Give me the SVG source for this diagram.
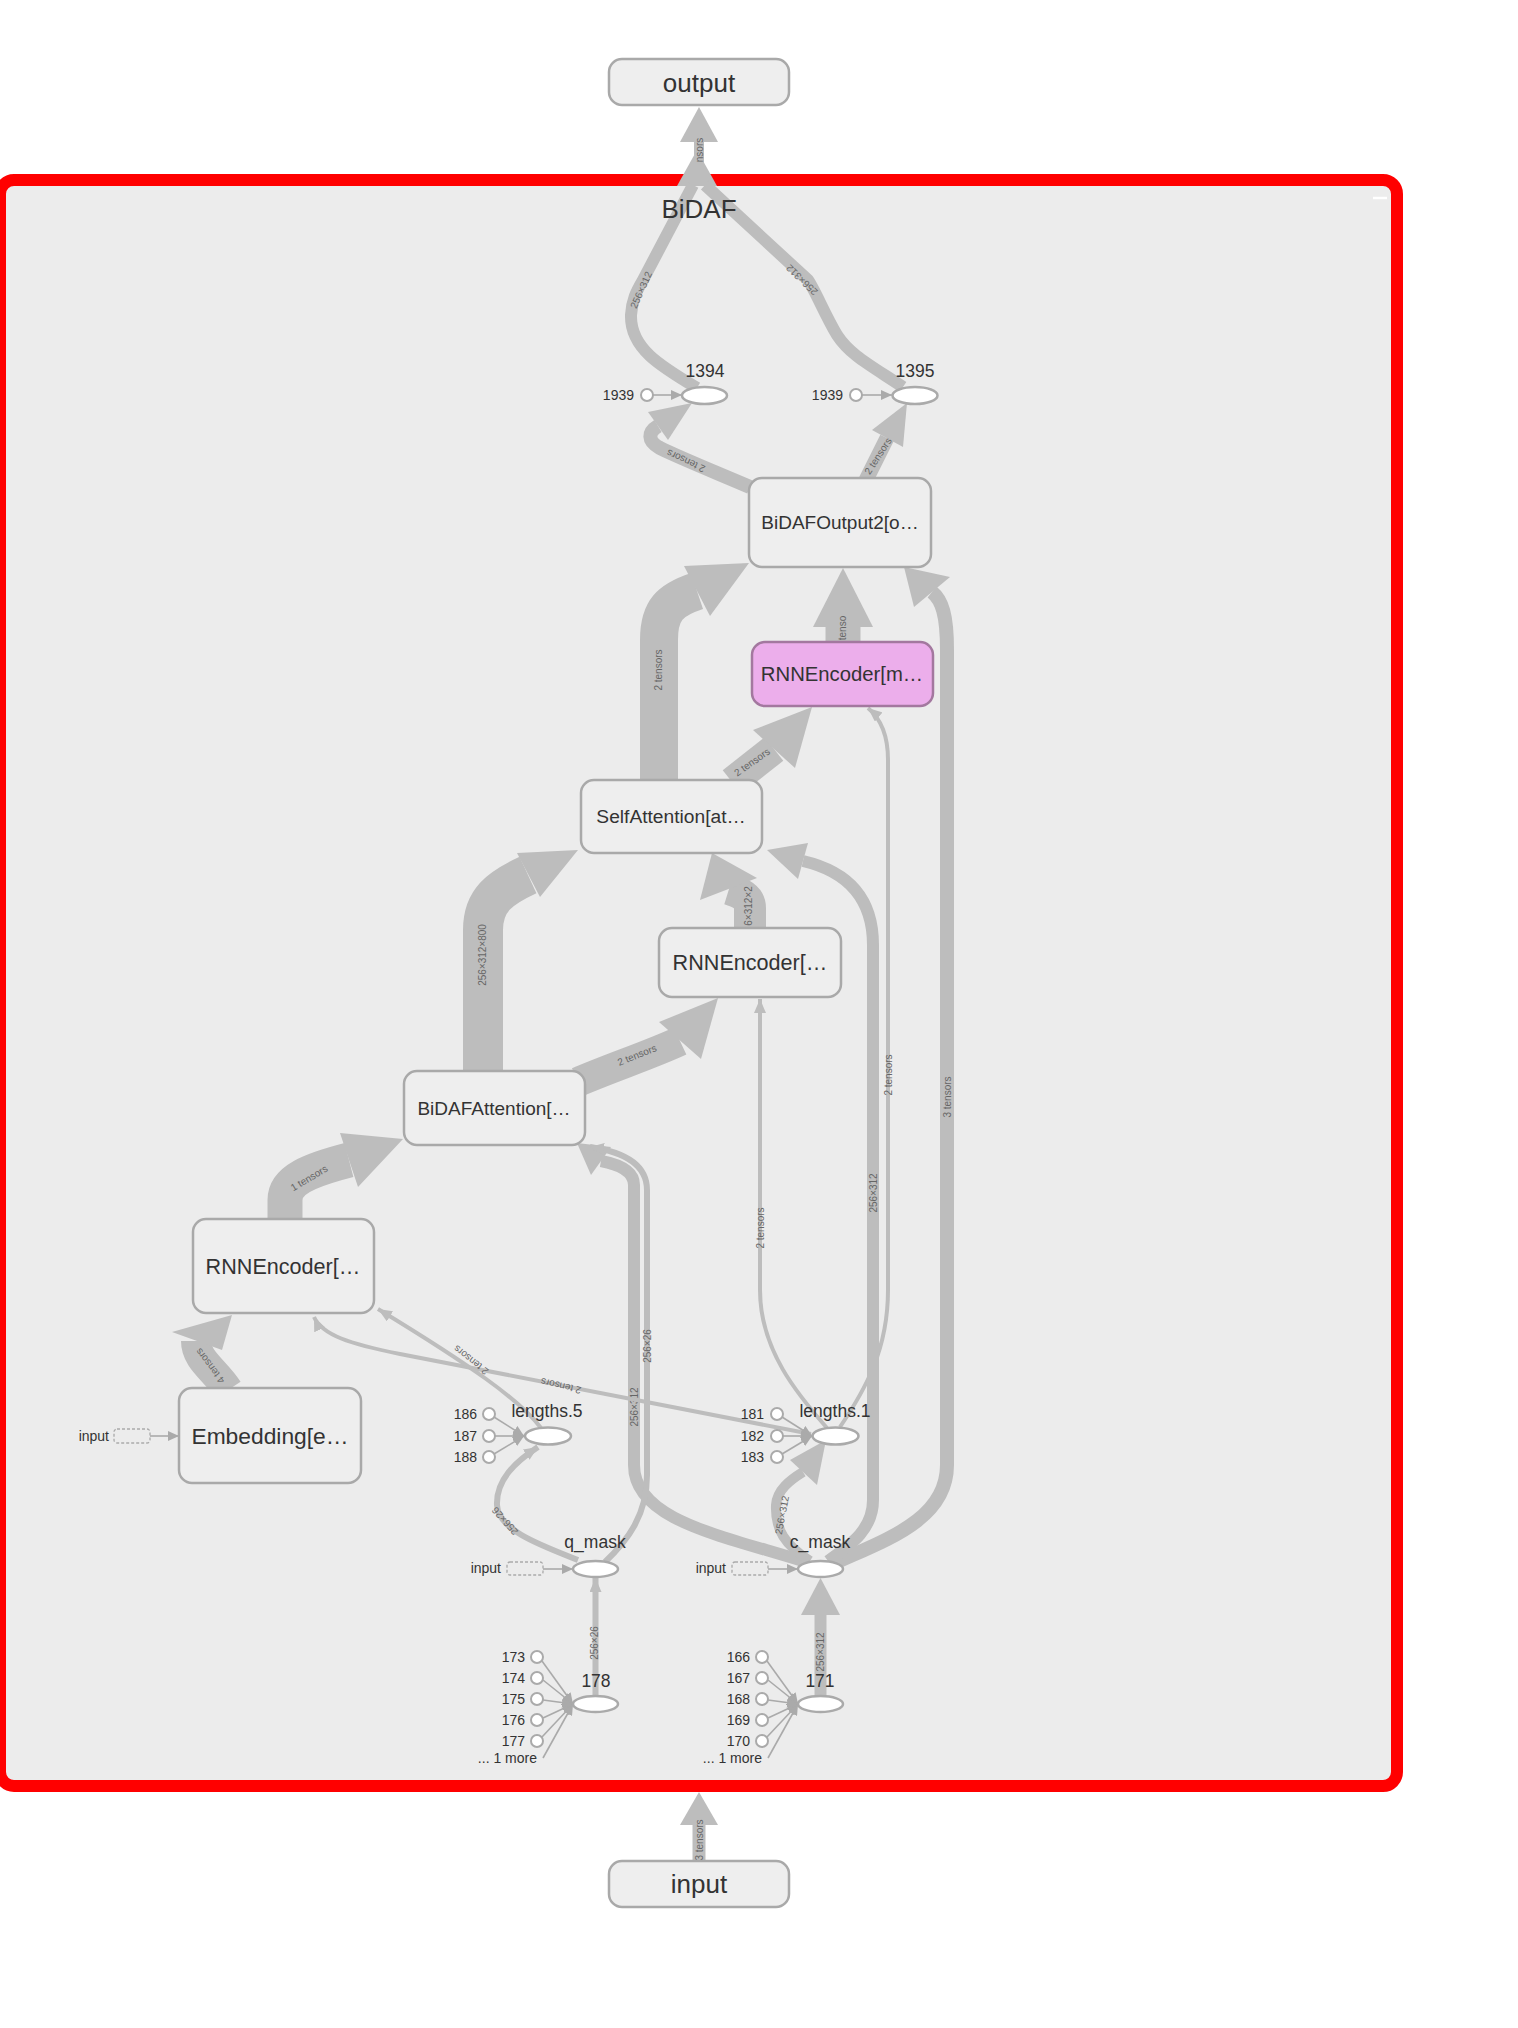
<svg xmlns="http://www.w3.org/2000/svg" width="1518" height="2028" viewBox="0 0 1518 2028">
<defs>
<marker id="m" markerUnits="userSpaceOnUse" markerWidth="14" markerHeight="12" viewBox="0 0 14 12" refX="14" refY="6" orient="auto"><path d="M0,0 L14,6 L0,12 z" fill="#bdbdbd"/></marker>
<marker id="ma" markerUnits="userSpaceOnUse" markerWidth="11" markerHeight="10" viewBox="0 0 11 10" refX="11" refY="5" orient="auto"><path d="M0,0 L11,5 L0,10 z" fill="#aaa"/></marker>
<style>
text { font-family: "Liberation Sans", Arial, sans-serif; }
.e { fill: none; stroke: #bdbdbd; stroke-linecap: butt; stroke-linejoin: round; }
.ah { fill: #bdbdbd; }
.el { font-size: 10px; fill: #666; text-anchor: middle; }
.nd rect { fill: #eeeeee; stroke: #a9a9a9; stroke-width: 2.5; }
.nd text { fill: #333; text-anchor: middle; }
.op ellipse { fill: #fff; stroke: #aaa; stroke-width: 2.5; }
.op text.t { fill: #333; text-anchor: middle; font-size: 17.5px; }
.an circle { fill: #fff; stroke: #aaa; stroke-width: 2; }
.an line { stroke: #aaa; stroke-width: 1.6; marker-end: url(#ma); }
.an text { fill: #333; text-anchor: end; font-size: 14px; }
.stub rect { fill: none; stroke: #aaa; stroke-width: 1.3; stroke-dasharray: 3 2; }
</style>
</defs>
<rect x="0" y="0" width="1518" height="2028" fill="#fff"/>

<g id="cluster-BiDAF">
<rect x="0" y="180" width="1397" height="1606" rx="14" fill="#ececec" stroke="#ff0000" stroke-width="12"/>
<line x1="1373" y1="198" x2="1387" y2="198" stroke="#fff" stroke-width="2.5"/>
</g>

<g id="connectors">
<!-- output edge -->
<path class="e" d="M699 186 L699 140" stroke-width="10"/>
<polygon class="ah" points="699,107 680,142 718,142"/>
<polygon class="ah" points="697,150 677,186 717,186"/>
<text class="el" transform="translate(699,150) rotate(-90)" y="3.5">nsors</text>
<!-- input edge -->
<path class="e" d="M699 1861 L699 1823" stroke-width="13"/>
<polygon class="ah" points="699,1792 680,1825 718,1825"/>
<text class="el" transform="translate(699,1840) rotate(-90)" y="3.5">3 tensors</text>

<!-- 1394 -> output -->
<path class="e" d="M697 388 C660 366 630 348 631 315 C632 300 636 292 643 280 L693 185" stroke-width="12"/>
<text class="el" transform="translate(641,290) rotate(-66)" y="3.5">256×312</text>
<!-- 1395 -> output -->
<path class="e" d="M903 387 C870 365 850 355 837 335 C825 315 815 290 808 280 L705 185" stroke-width="12"/>
<text class="el" transform="translate(802,280) rotate(224)" y="3.5">256×312</text>

<!-- BiDAFOutput2 -> 1394 -->
<path class="e" d="M750 487 C715 472 680 458 660 448 C647 441 648 432 658 426" stroke-width="14"/>
<polygon class="ah" points="692,403 648,412 668,440"/>
<text class="el" transform="translate(686,461) rotate(205)" y="3.5">2 tensors</text>
<!-- BiDAFOutput2 -> 1395 -->
<path class="e" d="M866 480 L887 438" stroke-width="15"/>
<polygon class="ah" points="907,403 872,430 903,447"/>
<text class="el" transform="translate(878,456) rotate(-57)" y="3.5">2 tensors</text>

<!-- SelfAttention -> BiDAFOutput2 -->
<path class="e" d="M659 782 L659 640 C659 610 670 600 697 591" stroke-width="38"/>
<polygon class="ah" points="749,563 684,566 710,616"/>
<text class="el" transform="translate(658,670) rotate(-90)" y="3.5">2 tensors</text>

<!-- RNNEncoder[m -> BiDAFOutput2 -->
<path class="e" d="M843 644 L843 625" stroke-width="35"/>
<polygon class="ah" points="843,568 813,627 873,627"/>
<text class="el" transform="translate(842,628) rotate(-90)" y="3.5">tenso</text>

<!-- c_mask -> BiDAFOutput2 -->
<path class="e" d="M835 1563 C885 1540 947 1520 947 1465 L947 650 C947 615 942 600 932 592" stroke-width="14"/>
<polygon class="ah" points="904,567 914,607 950,577"/>
<text class="el" transform="translate(947,1097) rotate(-90)" y="3.5">3 tensors</text>

<!-- SelfAttention -> RNNEncoder[m -->
<path class="e" d="M732 782 L774 749" stroke-width="30"/>
<polygon class="ah" points="812,707 753,730 795,768"/>
<text class="el" transform="translate(752,762) rotate(-35)" y="3.5">2 tensors</text>

<!-- lengths.1 -> RNNEncoder[m -->
<path class="e" d="M840 1427 C865 1390 888 1350 888 1290 L888 760 C888 735 880 718 868 708" stroke-width="4" marker-end="url(#m)"/>
<text class="el" transform="translate(888,1075) rotate(-90)" y="3.5">2 tensors</text>

<!-- c_mask -> SelfAttention -->
<path class="e" d="M828 1561 C850 1545 873 1530 873 1500 L873 945 C873 900 850 872 803 861" stroke-width="12"/>
<polygon class="ah" points="767,850 808,843 798,879"/>
<text class="el" transform="translate(873,1193) rotate(-90)" y="3.5">256×312</text>

<!-- RNNEncoder[ middle -> SelfAttention -->
<path class="e" d="M750 930 L750 908 C750 898 742 893 729 889" stroke-width="32"/>
<polygon class="ah" points="712,853 700,900 757,878"/>
<text class="el" transform="translate(748,906) rotate(-90)" y="3.5">6×312×2</text>

<!-- BiDAFAttention -> SelfAttention -->
<path class="e" d="M483 1073 L483 930 C483 900 500 888 528 875" stroke-width="40"/>
<polygon class="ah" points="578,850 517,853 540,897"/>
<text class="el" transform="translate(482,955) rotate(-90)" y="3.5">256×312×800</text>

<!-- BiDAFAttention -> RNNEncoder middle -->
<path class="e" d="M578 1082 C610 1068 650 1055 680 1041" stroke-width="30"/>
<polygon class="ah" points="718,998 659,1022 701,1059"/>
<text class="el" transform="translate(637,1055) rotate(-22)" y="3.5">2 tensors</text>

<!-- lengths.1 -> RNNEncoder middle -->
<path class="e" d="M827 1428 C798 1395 760 1350 760 1290 L760 999" stroke-width="4" marker-end="url(#m)"/>
<text class="el" transform="translate(760,1228) rotate(-90)" y="3.5">2 tensors</text>

<!-- RNNEncoder left -> BiDAFAttention -->
<path class="e" d="M285 1221 L285 1200 C285 1180 310 1170 349 1160" stroke-width="35"/>
<polygon class="ah" points="403,1139 340,1133 358,1187"/>
<text class="el" transform="translate(309,1178) rotate(-31)" y="3.5">1 tensors</text>

<!-- c_mask -> BiDAFAttention -->
<path class="e" d="M806 1562 C720 1535 634 1520 634 1465 L634 1185 C634 1172 622 1165 601 1161" stroke-width="12"/>
<polygon class="ah" points="577,1143 611,1147 591,1175"/>
<text class="el" transform="translate(634,1407) rotate(-90)" y="3.5">256×312</text>

<!-- q_mask -> BiDAFAttention -->
<path class="e" d="M605 1562 C628 1540 647 1515 647 1475 L647 1190 C647 1165 625 1152 590 1147" stroke-width="6" marker-end="url(#m)"/>
<text class="el" transform="translate(647,1346) rotate(-90)" y="3.5">256×26</text>

<!-- Embedding -> RNNEncoder left -->
<path class="e" d="M228 1390 C215 1370 196 1360 196 1341" stroke-width="30"/>
<polygon class="ah" points="232,1315 172,1332 222,1350"/>
<text class="el" transform="translate(210,1366) rotate(233)" y="3.5">4 tensors</text>

<!-- lengths.1 -> RNNEncoder left -->
<path class="e" d="M811 1434 L400 1354 C350 1344 322 1335 314 1317" stroke-width="4" marker-end="url(#m)"/>
<text class="el" transform="translate(561,1386) rotate(193)" y="3.5">2 tensors</text>

<!-- lengths.5 -> RNNEncoder left -->
<path class="e" d="M541 1428 C520 1400 470 1365 378 1309" stroke-width="4" marker-end="url(#m)"/>
<text class="el" transform="translate(471,1360) rotate(218)" y="3.5">2 tensors</text>

<!-- q_mask -> lengths.5 -->
<path class="e" d="M578 1560 C540 1545 498 1530 497 1505 C496 1480 515 1462 538 1447" stroke-width="6" marker-end="url(#m)"/>
<text class="el" transform="translate(505,1521) rotate(228)" y="3.5">256×26</text>

<!-- c_mask -> lengths.1 -->
<path class="e" d="M810 1561 C785 1545 775 1530 776 1505 C777 1490 790 1480 803 1472" stroke-width="10"/>
<polygon class="ah" points="826,1440 790,1460 817,1485"/>
<text class="el" transform="translate(782,1515) rotate(-79)" y="3.5">256×312</text>

<!-- 178 -> q_mask -->
<path class="e" d="M595.5 1700 L595.5 1578" stroke-width="6" marker-end="url(#m)"/>
<text class="el" transform="translate(594,1643) rotate(-90)" y="3.5">256×26</text>

<!-- 171 -> c_mask -->
<path class="e" d="M820.5 1700 L820.5 1612" stroke-width="12"/>
<polygon class="ah" points="820.5,1578 801,1615 840,1615"/>
<text class="el" transform="translate(820,1652) rotate(-90)" y="3.5">256×312</text>
</g>

<text id="cluster-BiDAF-label" x="699" y="218" font-size="26" fill="#333" text-anchor="middle">BiDAF</text>

<g id="node-output" class="nd"><rect x="609" y="59" width="180" height="46" rx="13"/><text x="699" y="92" font-size="26">output</text></g>
<g id="node-input" class="nd"><rect x="609" y="1861" width="180" height="46" rx="13"/><text x="699" y="1893" font-size="26">input</text></g>

<g id="node-BiDAFOutput2" class="nd"><rect x="749" y="478" width="182" height="89" rx="13"/><text x="840" y="529" font-size="19">BiDAFOutput2[o…</text></g>
<g id="node-RNNEncoder-mod" class="nd"><rect x="752" y="642" width="181" height="64" rx="13" style="fill:#ecaeeb;stroke:#a3789f"/><text x="842" y="681" font-size="20.3">RNNEncoder[m…</text></g>
<g id="node-SelfAttention" class="nd"><rect x="581" y="780" width="181" height="73" rx="13"/><text x="671" y="823" font-size="19.2">SelfAttention[at…</text></g>
<g id="node-RNNEncoder-mid" class="nd"><rect x="659" y="928" width="182" height="69" rx="13"/><text x="750" y="970" font-size="21.6">RNNEncoder[…</text></g>
<g id="node-BiDAFAttention" class="nd"><rect x="404" y="1071" width="181" height="74" rx="13"/><text x="494" y="1115" font-size="19">BiDAFAttention[…</text></g>
<g id="node-RNNEncoder-left" class="nd"><rect x="193" y="1219" width="181" height="94" rx="13"/><text x="283" y="1274" font-size="21.6">RNNEncoder[…</text></g>
<g id="node-Embedding" class="nd"><rect x="179" y="1388" width="182" height="95" rx="13"/><text x="270" y="1444" font-size="22.8">Embedding[e…</text></g>
<g id="stub-Embedding-input" class="stub an"><text x="109" y="1441">input</text><rect x="114" y="1429" width="36" height="14" rx="3"/><line x1="150" y1="1436" x2="179" y2="1436"/></g>

<g id="node-1394" class="op">
<ellipse cx="704.5" cy="395.5" rx="22.5" ry="8.5"/><text class="t" x="705" y="377">1394</text>
<g class="an"><text x="634" y="400">1939</text><circle cx="647" cy="395" r="6"/><line x1="653" y1="395" x2="682" y2="395"/></g>
</g>
<g id="node-1395" class="op">
<ellipse cx="915" cy="395.5" rx="22.5" ry="8.5"/><text class="t" x="915" y="377">1395</text>
<g class="an"><text x="843" y="400">1939</text><circle cx="856" cy="395" r="6"/><line x1="862" y1="395" x2="892" y2="395"/></g>
</g>

<g id="node-lengths5" class="op">
<g class="an">
<text x="477" y="1419">186</text><text x="477" y="1441">187</text><text x="477" y="1462">188</text>
<line x1="494" y1="1417" x2="524" y2="1436"/><line x1="495" y1="1436" x2="524" y2="1436"/><line x1="494" y1="1454" x2="524" y2="1436"/>
<circle cx="489" cy="1414" r="6"/><circle cx="489" cy="1436" r="6"/><circle cx="489" cy="1457" r="6"/>
</g>
<ellipse cx="548" cy="1436" rx="23" ry="8.5"/><text class="t" x="547" y="1417">lengths.5</text>
</g>

<g id="node-lengths1" class="op">
<g class="an">
<text x="764" y="1419">181</text><text x="764" y="1441">182</text><text x="764" y="1462">183</text>
<line x1="782" y1="1417" x2="812" y2="1436"/><line x1="783" y1="1436" x2="812" y2="1436"/><line x1="782" y1="1454" x2="812" y2="1436"/>
<circle cx="777" cy="1414" r="6"/><circle cx="777" cy="1436" r="6"/><circle cx="777" cy="1457" r="6"/>
</g>
<ellipse cx="835.5" cy="1436" rx="23" ry="8.5"/><text class="t" x="835" y="1417">lengths.1</text>
</g>

<g id="node-q_mask" class="op">
<g class="stub an"><text x="501" y="1573">input</text><rect x="507" y="1562" width="36" height="13" rx="3"/><line x1="543" y1="1569" x2="573" y2="1569"/></g>
<ellipse cx="595.5" cy="1569" rx="22.5" ry="8"/><text class="t" x="595" y="1548">q_mask</text>
</g>
<g id="node-c_mask" class="op">
<g class="stub an"><text x="726" y="1573">input</text><rect x="732" y="1562" width="36" height="13" rx="3"/><line x1="768" y1="1569" x2="798" y2="1569"/></g>
<ellipse cx="820.5" cy="1569" rx="22.5" ry="8"/><text class="t" x="820" y="1548">c_mask</text>
</g>

<g id="node-178" class="op">
<g class="an">
<text x="525" y="1662">173</text><text x="525" y="1683">174</text><text x="525" y="1704">175</text><text x="525" y="1725">176</text><text x="525" y="1746">177</text>
<text x="537" y="1763">... 1 more</text>
<line x1="542" y1="1661" x2="573" y2="1704"/><line x1="543" y1="1680" x2="573" y2="1704"/><line x1="543" y1="1700" x2="573" y2="1704"/><line x1="543" y1="1718" x2="573" y2="1704"/><line x1="542" y1="1737" x2="573" y2="1704"/><line x1="543" y1="1758" x2="573" y2="1704"/>
<circle cx="537" cy="1657" r="6"/><circle cx="537" cy="1678" r="6"/><circle cx="537" cy="1699" r="6"/><circle cx="537" cy="1720" r="6"/><circle cx="537" cy="1741" r="6"/>
</g>
<ellipse cx="595.5" cy="1704" rx="22.5" ry="8"/><text class="t" x="596" y="1687">178</text>
</g>

<g id="node-171" class="op">
<g class="an">
<text x="750" y="1662">166</text><text x="750" y="1683">167</text><text x="750" y="1704">168</text><text x="750" y="1725">169</text><text x="750" y="1746">170</text>
<text x="762" y="1763">... 1 more</text>
<line x1="767" y1="1661" x2="798" y2="1704"/><line x1="768" y1="1680" x2="798" y2="1704"/><line x1="768" y1="1700" x2="798" y2="1704"/><line x1="768" y1="1718" x2="798" y2="1704"/><line x1="767" y1="1737" x2="798" y2="1704"/><line x1="768" y1="1758" x2="798" y2="1704"/>
<circle cx="762" cy="1657" r="6"/><circle cx="762" cy="1678" r="6"/><circle cx="762" cy="1699" r="6"/><circle cx="762" cy="1720" r="6"/><circle cx="762" cy="1741" r="6"/>
</g>
<ellipse cx="820.5" cy="1704" rx="22.5" ry="8"/><text class="t" x="820" y="1687">171</text>
</g>
</svg>
